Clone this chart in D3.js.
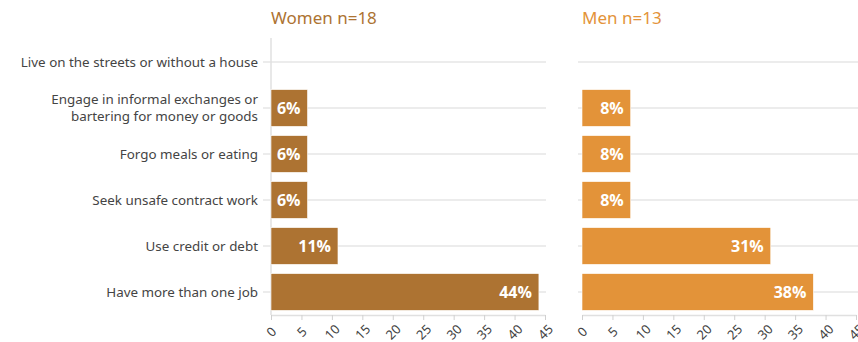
<!DOCTYPE html>
<html>
<head>
    <meta charset="utf-8" />
    <title>Coping strategies by gender</title>
    <script src="https://d3js.org/d3.v7.min.js"></script>
    <style>
        body { margin: 0; background: #fff; }
        svg { display: block; font-family: "Noto Sans", sans-serif; }
    </style>
</head>
<body>
    <svg width="858" height="342"></svg>
    <script>
        var categories = [
            "Live on the streets or without a house",
            "Engage in informal exchanges or bartering for money or goods",
            "Forgo meals or eating",
            "Seek unsafe contract work",
            "Use credit or debt",
            "Have more than one job"
        ];
        // label lines for the y axis
        var categoryLines = [
            ["Live on the streets or without a house"],
            ["Engage in informal exchanges or", "bartering for money or goods"],
            ["Forgo meals or eating"],
            ["Seek unsafe contract work"],
            ["Use credit or debt"],
            ["Have more than one job"]
        ];
        var women = [0, 6, 6, 6, 11, 44];
        var men = [0, 8, 8, 8, 31, 38];
        var xTicks = [0, 5, 10, 15, 20, 25, 30, 35, 40, 45];

        var panels = [
            { title: "Women n=18", values: women, color: "#ad7332", x0: 271, x1: 545, leftLabels: true },
            { title: "Men n=13", values: men, color: "#e39339", x0: 582, x1: 856, leftLabels: false }
        ];

        var svg = d3.select("svg");

        var y = d3.scaleBand()
            .domain(categories)
            .range([39, 315])
            .paddingInner(0.2)
            .paddingOuter(0.1);

        panels.forEach(function (p) {
            var x = d3.scaleLinear().domain([0, 45]).range([p.x0, p.x1]);
            var g = svg.append("g");

            // horizontal grid lines at each category
            g.selectAll(".grid")
                .data(categories)
                .enter()
                .append("line")
                .attr("x1", p.x0 - (p.leftLabels ? 8 : 4))
                .attr("x2", p.leftLabels ? p.x1 + 1 : 858)
                .attr("y1", function (d) { return y(d) + y.bandwidth() / 2; })
                .attr("y2", function (d) { return y(d) + y.bandwidth() / 2; })
                .attr("stroke", "#e6e6e6")
                .attr("stroke-width", 1.5);

            if (p.leftLabels) {
                g.append("line")
                    .attr("x1", p.x0).attr("x2", p.x0)
                    .attr("y1", 38).attr("y2", 315)
                    .attr("stroke", "#e0e0e0")
                    .attr("stroke-width", 1.5);

                var lab = g.selectAll(".cat")
                    .data(categories)
                    .enter()
                    .append("text")
                    .attr("class", "cat")
                    .attr("text-anchor", "end")
                    .attr("fill", "#444")
                    .style("font-size", "13.4px");
                lab.each(function (d, i) {
                    var lines = categoryLines[i];
                    var cy = y(d) + y.bandwidth() / 2;
                    var t = d3.select(this);
                    lines.forEach(function (l, j) {
                        t.append("tspan")
                            .attr("x", 258)
                            .attr("y", cy + (j - (lines.length - 1) / 2) * 17)
                            .attr("dy", "0.35em")
                            .text(l);
                    });
                });
            }

            // bars
            g.selectAll(".bar")
                .data(categories)
                .enter()
                .append("rect")
                .attr("x", x(0))
                .attr("y", function (d) { return y(d); })
                .attr("width", function (d, i) { return x(p.values[i]) - x(0); })
                .attr("height", y.bandwidth())
                .attr("fill", p.color)
                .attr("stroke", "#fff")
                .attr("stroke-width", 0.6)
                .style("display", function (d, i) { return p.values[i] > 0 ? null : "none"; });

            // value labels
            g.selectAll(".val")
                .data(categories)
                .enter()
                .append("text")
                .filter(function (d, i) { return p.values[i] > 0; })
                .attr("x", function (d) { return x(p.values[categories.indexOf(d)]) - 7; })
                .attr("y", function (d) { return y(d) + y.bandwidth() / 2; })
                .attr("dy", "0.36em")
                .attr("text-anchor", "end")
                .attr("fill", "#fff")
                .style("font-family", "'Open Sans', sans-serif")
                .style("font-size", "16px")
                .style("font-weight", "bold")
                .text(function (d) { return p.values[categories.indexOf(d)] + "%"; });

            // x axis
            var ax = g.append("g")
                .attr("transform", "translate(0,315)")
                .call(d3.axisBottom(x).tickValues(xTicks).tickSize(5).tickSizeOuter(0));
            ax.select(".domain").attr("stroke", "#e0e0e0").attr("stroke-width", 1.5);
            ax.selectAll(".tick line").attr("stroke", "#d0d0d0");
            ax.selectAll(".tick text")
                .attr("fill", "#444")
                .style("font-size", "13px")
                .style("font-family", "Noto Sans, sans-serif")
                .attr("text-anchor", "middle")
                .attr("x", 0)
                .attr("y", 0)
                .attr("dy", "0.35em")
                .attr("transform", "translate(0,17) rotate(-45)");

            // title
            svg.append("text")
                .attr("x", p.x0)
                .attr("y", 24)
                .attr("fill", p.color)
                .style("font-size", "17px")
                .text(p.title);
        });
    </script>
</body>
</html>
